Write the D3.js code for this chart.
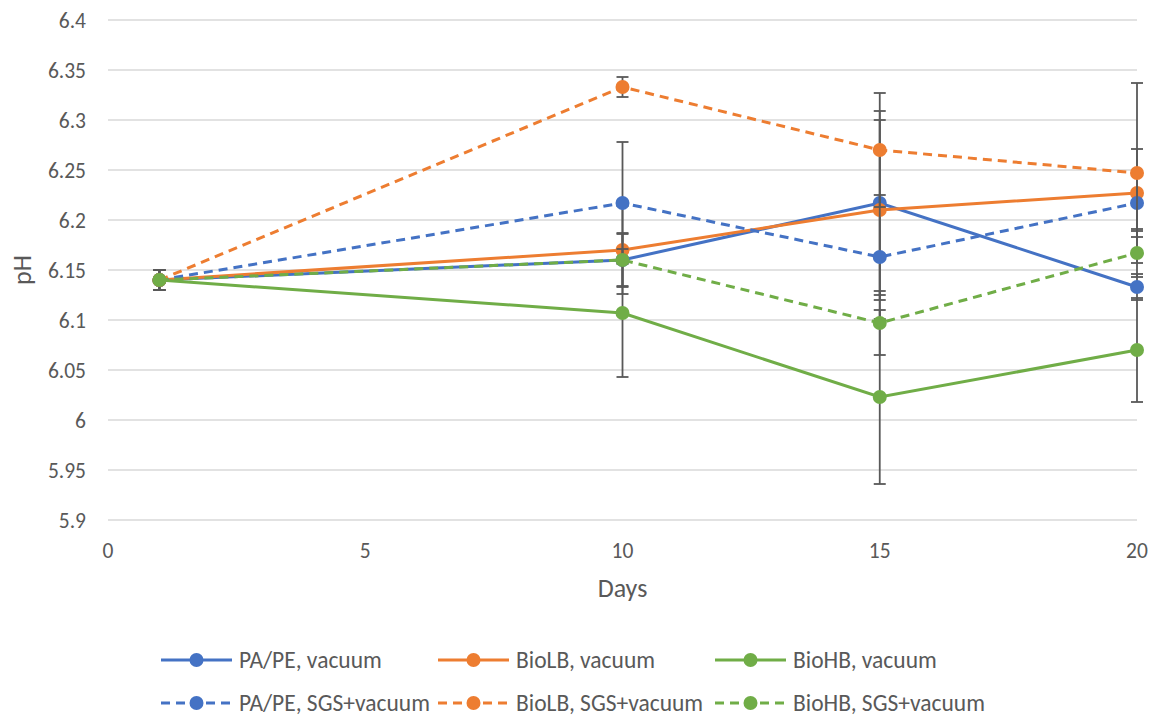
<!DOCTYPE html>
<html>
<head>
  <meta charset="utf-8">
  <script src="https://d3js.org/d3.v7.min.js"></script>
  <style>
    body { margin: 0; background: #fff; }
    text { font-family: Carlito, Lato, "Liberation Sans", sans-serif; fill: #595959; }
  </style>
</head>
<body>
<div id="vis"></div>
<script>
  // data
  var days = [1, 10, 15, 20];
  var seriesNames = ['PA/PE, vacuum', 'BioLB, vacuum', 'BioHB, vacuum',
    'PA/PE, SGS+vacuum', 'BioLB, SGS+vacuum', 'BioHB, SGS+vacuum'];
  var seriesColors = ['#4472C4', '#ED7D31', '#70AD47', '#4472C4', '#ED7D31', '#70AD47'];
  var seriesDashed = [false, false, false, true, true, true];

  var paPeVac = [6.14, 6.16, 6.217, 6.133];
  var bioLbVac = [6.14, 6.17, 6.21, 6.227];
  var bioHbVac = [6.14, 6.107, 6.023, 6.07];
  var paPeSgs = [6.14, 6.217, 6.163, 6.217];
  var bioLbSgs = [6.14, 6.333, 6.27, 6.247];
  var bioHbSgs = [6.14, 6.16, 6.097, 6.167];

  var paPeVacErr = [0.01, 0.027, 0.092, 0.013];
  var bioLbVacErr = [0.01, 0.044, 0.09, 0.044];
  var bioHbVacErr = [0.01, 0.064, 0.087, 0.052];
  var paPeSgsErr = [0.01, 0.061, 0.062, 0.028];
  var bioLbSgsErr = [0.01, 0.01, 0.057, 0.09];
  var bioHbSgsErr = [0.01, 0.026, 0.032, 0.024];

  var xTicks = [0, 5, 10, 15, 20];
  var yTicks = [5.9, 5.95, 6, 6.05, 6.1, 6.15, 6.2, 6.25, 6.3, 6.35, 6.4];

  var allValues = [paPeVac, bioLbVac, bioHbVac, paPeSgs, bioLbSgs, bioHbSgs];
  var allErrs = [paPeVacErr, bioLbVacErr, bioHbVacErr, paPeSgsErr, bioLbSgsErr, bioHbSgsErr];

  var series = seriesNames.map(function (name, i) {
    return {
      name: name, color: seriesColors[i], dashed: seriesDashed[i],
      points: days.map(function (d, j) { return { x: d, y: allValues[i][j], e: allErrs[i][j] }; })
    };
  });

  var width = 1159, height = 718;
  var margin = { left: 108, right: 22, top: 20, bottom: 198 };

  var svg = d3.select('#vis').append('svg')
    .attr('width', width).attr('height', height);

  var x = d3.scaleLinear().domain([0, 20]).range([margin.left, width - margin.right]);
  var y = d3.scaleLinear().domain([5.9, 6.4]).range([height - margin.bottom, margin.top]);

  // gridlines
  svg.append('g').selectAll('line')
    .data(yTicks).enter().append('line')
    .attr('x1', x(0)).attr('x2', x(20))
    .attr('y1', d => y(d)).attr('y2', d => y(d))
    .attr('stroke', '#d9d9d9').attr('stroke-width', 1.3);

  // y tick labels
  svg.append('g').selectAll('text')
    .data(yTicks).enter().append('text')
    .attr('x', 86).attr('y', d => y(d))
    .attr('dy', '0.35em').attr('text-anchor', 'end')
    .style('font-size', '21.5px')
    .text(d => +d.toFixed(2));

  // x tick labels
  svg.append('g').selectAll('text')
    .data(xTicks).enter().append('text')
    .attr('x', d => x(d)).attr('y', y(5.9) + 38)
    .attr('text-anchor', 'middle')
    .style('font-size', '21.5px')
    .text(d => d);

  svg.append('text')
    .attr('x', x(10)).attr('y', 597)
    .attr('text-anchor', 'middle').style('font-size', '26px')
    .text('Days');

  svg.append('text')
    .attr('transform', 'translate(31,' + y(6.15) + ') rotate(-90)')
    .attr('text-anchor', 'middle').style('font-size', '26px')
    .text('pH');

  var line = d3.line().x(d => x(d.x)).y(d => y(d.y));

  series.forEach(function (s) {
    var g = svg.append('g');
    // error bars
    var eb = g.selectAll('g.err').data(s.points).enter().append('g');
    eb.append('line')
      .attr('x1', d => x(d.x)).attr('x2', d => x(d.x))
      .attr('y1', d => y(d.y - d.e)).attr('y2', d => y(d.y + d.e))
      .attr('stroke', '#595959').attr('stroke-width', 1.8);
    [1, -1].forEach(function (sgn) {
      eb.append('line')
        .attr('x1', d => x(d.x) - 6).attr('x2', d => x(d.x) + 6)
        .attr('y1', d => y(d.y + sgn * d.e)).attr('y2', d => y(d.y + sgn * d.e))
        .attr('stroke', '#595959').attr('stroke-width', 1.8);
    });
    g.append('path')
      .datum(s.points)
      .attr('d', line)
      .attr('fill', 'none')
      .attr('stroke', s.color)
      .attr('stroke-width', 3)
      .attr('stroke-dasharray', s.dashed ? '9,6' : null);
    g.selectAll('circle').data(s.points).enter().append('circle')
      .attr('cx', d => x(d.x)).attr('cy', d => y(d.y))
      .attr('r', 7).attr('fill', s.color);
  });

  // legend
  var legX = [161, 438, 715];
  var legY = [660, 703];
  series.forEach(function (s, i) {
    var lx = legX[i % 3], ly = legY[Math.floor(i / 3)];
    var g = svg.append('g').attr('transform', 'translate(' + lx + ',' + ly + ')');
    g.append('line')
      .attr('x1', 0).attr('x2', 71).attr('y1', 0).attr('y2', 0)
      .attr('stroke', s.color).attr('stroke-width', 3)
      .attr('stroke-dasharray', s.dashed ? '9,6' : null);
    g.append('circle').attr('cx', 35.5).attr('cy', 0).attr('r', 7).attr('fill', s.color);
    g.append('text').attr('x', 78).attr('y', 0).attr('dy', '0.35em')
      .style('font-size', '23.5px').text(s.name);
  });
</script>
</body>
</html>
